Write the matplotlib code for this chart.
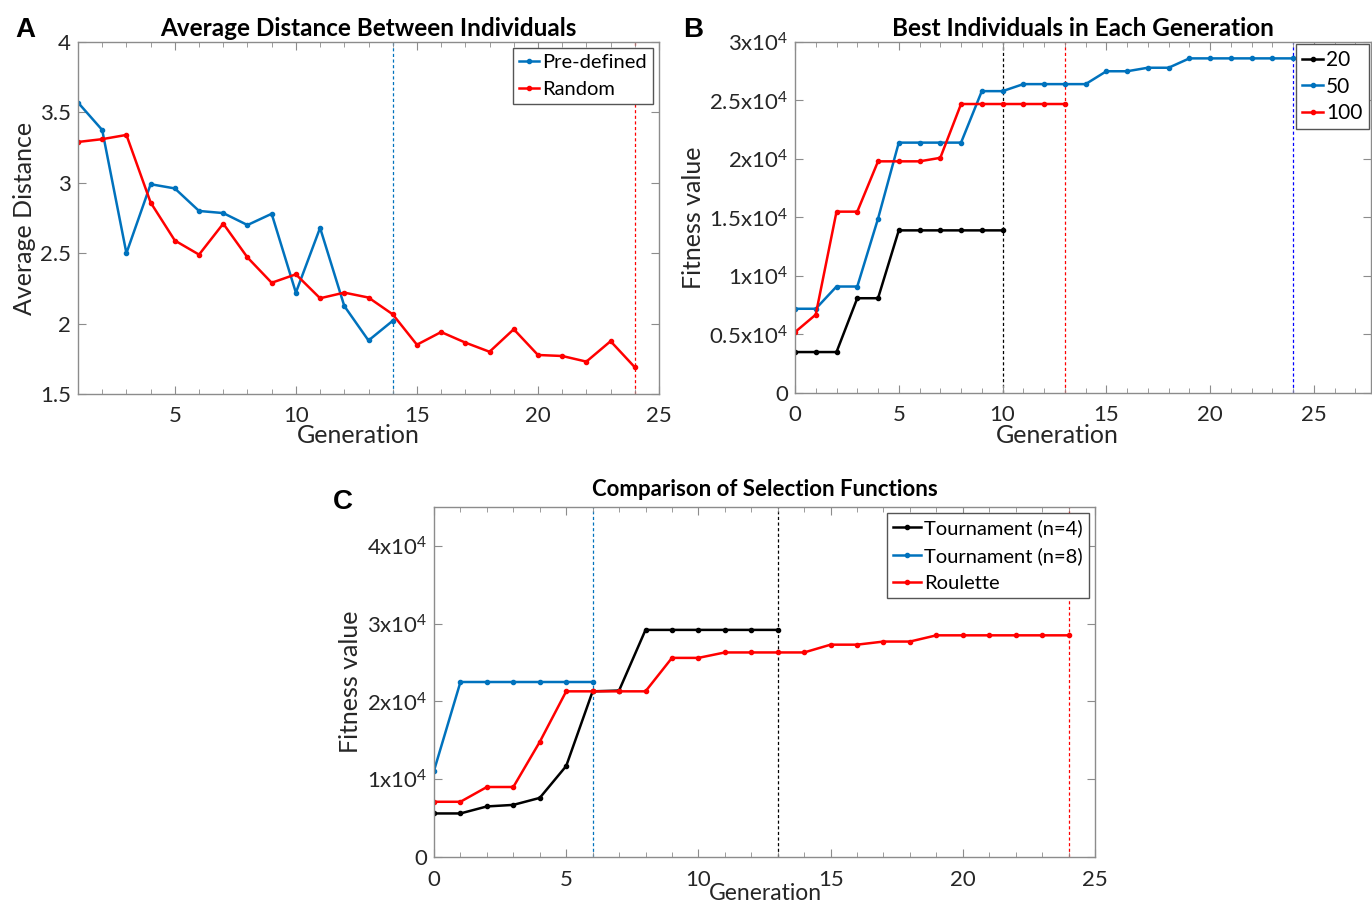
import numpy as np
import matplotlib
matplotlib.use("Agg")
import matplotlib.pyplot as plt
from matplotlib.ticker import MultipleLocator

plt.rcParams['font.family'] = ['Lato', 'DejaVu Sans']
plt.rcParams['mathtext.default'] = 'regular'

BLUE = '#0072BD'
RED = '#FF0000'
BLACK = '#000000'

# panel A: average distance between individuals
gen_a_pre = np.arange(1, 15)
dist_pre = [3.57, 3.375, 2.50, 2.99, 2.96, 2.80, 2.785, 2.70, 2.78, 2.22,
            2.68, 2.125, 1.88, 2.02]
gen_a_rand = np.arange(1, 25)
dist_rand = [3.29, 3.31, 3.34, 2.86, 2.59, 2.49, 2.71, 2.47, 2.29, 2.35,
             2.18, 2.22, 2.185, 2.066, 1.85, 1.94, 1.865, 1.80, 1.96, 1.777,
             1.77, 1.73, 1.875, 1.69]

# panel B: best individuals per population size
gen_b20 = np.arange(0, 11)
fit_b20 = [3500, 3500, 3500, 8100, 8100, 13900, 13900, 13900, 13900, 13900, 13900]
gen_b50 = np.arange(0, 25)
fit_b50 = [7200, 7200, 9100, 9100, 14900, 21400, 21400, 21400, 21400, 25800,
           25800, 26400, 26400, 26400, 26400, 27500, 27500, 27800, 27800, 28600,
           28600, 28600, 28600, 28600, 28600]
gen_b100 = np.arange(0, 14)
fit_b100 = [5200, 6700, 15500, 15500, 19800, 19800, 19800, 20100, 24700, 24700,
            24700, 24700, 24700, 24700]

# panel C: selection functions
gen_c4 = np.arange(0, 14)
fit_c4 = [5600, 5600, 6500, 6700, 7600, 11700, 21300, 21400, 29200, 29200,
          29200, 29200, 29200, 29200]
gen_c8 = np.arange(0, 7)
fit_c8 = [11100, 22500, 22500, 22500, 22500, 22500, 22500]
gen_cr = np.arange(0, 25)
fit_cr = [7100, 7100, 9000, 9000, 14800, 21300, 21300, 21300, 21300, 25600,
          25600, 26300, 26300, 26300, 26300, 27300, 27300, 27700, 27700, 28500,
          28500, 28500, 28500, 28500, 28500]

W, H = 1372, 901
fig = plt.figure(figsize=(W / 100, H / 100), dpi=100)


def box(l, r, t, b):
    return [l / W, 1 - b / H, (r - l) / W, (b - t) / H]


def style(ax):
    for s in ax.spines.values():
        s.set_color('#8c8c8c')
        s.set_linewidth(1.0)
    ax.tick_params(which='both', direction='in', top=True, right=True,
                   color='#8c8c8c', labelcolor='#262626', labelsize=16)
    ax.tick_params(axis='x', pad=9)
    ax.tick_params(axis='y', pad=5)
    ax.tick_params(which='major', length=6)
    ax.tick_params(which='minor', length=3.5)
    ax.xaxis.set_major_locator(MultipleLocator(5))
    ax.xaxis.set_minor_locator(MultipleLocator(1))


def vline(ax, x, c):
    ax.axvline(x, color=c, lw=0.9, ls=(0, (2.5, 2)), zorder=1)


line_kw = dict(lw=1.8, marker='.', ms=6)
leg_kw = dict(loc='upper right', frameon=True, fancybox=False, edgecolor='#555555',
              framealpha=1, handletextpad=0.15, borderpad=0.3)
lab_kw = dict(fontsize=18, color='#262626')

# ---- A
axA = fig.add_axes(box(78, 659, 42, 394))
style(axA)
axA.plot(gen_a_pre, dist_pre, color=BLUE, label='Pre-defined', **line_kw)
axA.plot(gen_a_rand, dist_rand, color=RED, label='Random', **line_kw)
vline(axA, 14, BLUE)
vline(axA, 24, RED)
axA.set_xlim(1, 25)
axA.set_ylim(1.5, 4)
axA.set_yticks([1.5, 2, 2.5, 3, 3.5, 4])
axA.set_yticklabels(['1.5', '2', '2.5', '3', '3.5', '4'])
axA.set_xlabel('Generation', labelpad=-2, **lab_kw)
axA.xaxis.label.set_x(0.482)
axA.set_ylabel('Average Distance', labelpad=3, **lab_kw)
axA.set_title('Average Distance Between Individuals', fontsize=17.5, fontweight='bold', pad=4)
axA.legend(fontsize=14.5, handlelength=1.0, borderaxespad=0.3, labelspacing=0.5, **leg_kw)

# ---- B
axB = fig.add_axes(box(795, 1371, 42, 393))
style(axB)
axB.plot(gen_b20, fit_b20, color=BLACK, label='20', **line_kw)
axB.plot(gen_b50, fit_b50, color=BLUE, label='50', **line_kw)
axB.plot(gen_b100, fit_b100, color=RED, label='100', **line_kw)
vline(axB, 10, BLACK)
vline(axB, 13, RED)
vline(axB, 24, '#0000FF')
axB.set_xlim(0, 27.75)
axB.set_ylim(0, 30000)
ytb = [0, 5000, 10000, 15000, 20000, 25000, 30000]
axB.set_yticks(ytb)
axB.set_yticklabels(['0', '0.5x10$^4$', '1x10$^4$', '1.5x10$^4$', '2x10$^4$',
                     '2.5x10$^4$', '3x10$^4$'])
axB.set_xlabel('Generation', labelpad=-1, **lab_kw)
axB.xaxis.label.set_x(0.455)
axB.set_ylabel('Fitness value', labelpad=3, **lab_kw)
axB.set_title('Best Individuals in Each Generation', fontsize=17.5, fontweight='bold', pad=4)
axB.legend(fontsize=15, handlelength=1.0, borderaxespad=0.1, labelspacing=0.3, **leg_kw)

# ---- C
axC = fig.add_axes(box(434, 1095, 507, 857))
style(axC)
axC.plot(gen_c4, fit_c4, color=BLACK, label='Tournament (n=4)', **line_kw)
axC.plot(gen_c8, fit_c8, color=BLUE, label='Tournament (n=8)', **line_kw)
axC.plot(gen_cr, fit_cr, color=RED, label='Roulette', **line_kw)
vline(axC, 6, BLUE)
vline(axC, 13, BLACK)
vline(axC, 24, RED)
axC.set_xlim(0, 25)
axC.set_ylim(0, 45000)
ytc = [0, 10000, 20000, 30000, 40000]
axC.set_yticks(ytc)
axC.set_yticklabels(['0', '1x10$^4$', '2x10$^4$', '3x10$^4$', '4x10$^4$'])
axC.set_xlabel('Generation', labelpad=-5, fontsize=16.5, color='#262626')
axC.xaxis.label.set_x(0.502)
axC.set_ylabel('Fitness value', labelpad=3, **lab_kw)
axC.set_title('Comparison of Selection Functions', fontsize=16, fontweight='bold', pad=8)
axC.legend(fontsize=14.5, handlelength=1.4, borderaxespad=0.3, labelspacing=0.5, **leg_kw)

for txt, x, y in [('A', 15, 30), ('B', 683, 30), ('C', 333, 502)]:
    fig.text(x / W, 1 - y / H, txt, fontsize=20, fontweight='bold',
             family=['Liberation Sans', 'DejaVu Sans'], va='center', ha='left')

fig.savefig('out.png', dpi=100)
